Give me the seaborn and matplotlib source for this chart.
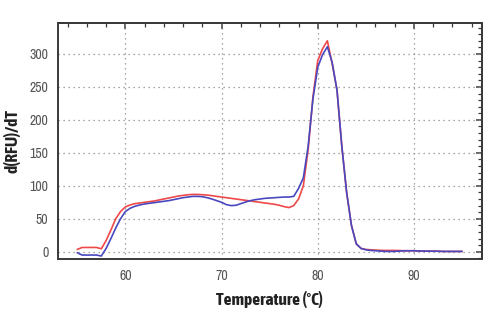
import numpy as np
import pandas as pd
import matplotlib
matplotlib.use("Agg")
import matplotlib.pyplot as plt
from matplotlib.ticker import MultipleLocator
import seaborn as sns

# Melt-curve derivative, sampled every 0.5 °C from 55 to 95 °C
temperature = [55.0, 55.5, 56.0, 56.5, 57.0, 57.5, 58.0, 58.5, 59.0, 59.5,
               60.0, 60.5, 61.0, 61.5, 62.0, 62.5, 63.0, 63.5, 64.0, 64.5,
               65.0, 65.5, 66.0, 66.5, 67.0, 67.5, 68.0, 68.5, 69.0, 69.5,
               70.0, 70.5, 71.0, 71.5, 72.0, 72.5, 73.0, 73.5, 74.0, 74.5,
               75.0, 75.5, 76.0, 76.5, 77.0, 77.5, 78.0, 78.5, 79.0, 79.5,
               80.0, 80.5, 81.0, 81.5, 82.0, 82.5, 83.0, 83.5, 84.0, 84.5,
               85.0, 85.5, 86.0, 86.5, 87.0, 87.5, 88.0, 88.5, 89.0, 89.5,
               90.0, 90.5, 91.0, 91.5, 92.0, 92.5, 93.0, 93.5, 94.0, 94.5,
               95.0]

sample_red = [3.5, 6.5, 6.5, 6.5, 6.5, 4.5, 17, 33, 50, 61,
              68, 71, 73, 74, 75, 76, 77, 78.5, 80, 81.5,
              83, 84.5, 85.5, 86.5, 87, 87, 86.5, 86, 85, 84,
              83, 82, 81, 80, 79, 78, 77, 76, 75, 74,
              73, 72, 70.5, 68.5, 67, 70, 80, 100, 155, 235,
              290, 308, 320, 285, 245, 160, 90, 40, 12, 5,
              3.5, 3, 2.5, 2.2, 2, 2, 2, 1.8, 1.5, 1.5,
              1.5, 1.2, 1, 1, 1, 0.8, 0.5, 0.5, 0.5, 0.5,
              0.5]

sample_blue = [-1.5, -5, -5, -5, -5, -6.5, 5, 20, 36, 50,
               61, 66, 69, 71, 72.5, 73.5, 74.5, 75.5, 76.5, 77.5,
               79, 80.5, 82, 83, 84, 84, 83.5, 82, 80, 77.5,
               75, 71.5, 70, 70.5, 73, 75.5, 77.5, 79, 80, 81,
               81.5, 82, 82.5, 83, 83, 84, 96, 112, 160, 232,
               280, 299, 311, 287, 245, 160, 90, 40, 12, 5,
               3, 2, 1.5, 1, 0.5, 0.5, 0.5, 1, 1.5, 1.5,
               1.5, 1.2, 1, 1, 0.8, 0.8, 0.5, 0.5, 0.5, 0.5,
               0.5]

series_names = ["Sample A", "Sample B"]
series_colors = ["#ef4848", "#4848c0"]

df = pd.DataFrame({
    "Temperature": temperature * 2,
    "dRFU": sample_red + sample_blue,
    "Sample": [series_names[0]] * len(temperature) + [series_names[1]] * len(temperature),
})

sns.set_style("white")
plt.rcParams["font.family"] = ["Archivo Narrow", "Liberation Sans", "DejaVu Sans"]
label_family = ["Asap Condensed", "Barlow Semi Condensed", "Liberation Sans", "DejaVu Sans"]

fig = plt.figure(figsize=(4.88, 3.28), dpi=100)
ax = fig.add_axes([58 / 488, 1 - 259 / 328, (482 - 58) / 488, (259 - 23) / 328])

sns.lineplot(data=df, x="Temperature", y="dRFU", hue="Sample",
             palette=series_colors, hue_order=series_names,
             linewidth=1.2, legend=False, ax=ax, zorder=3)

ax.set_xlim(53.0, 97.07)
ax.set_ylim(-11, 347)

ax.xaxis.set_major_locator(MultipleLocator(10))
ax.xaxis.set_minor_locator(MultipleLocator(2))
ax.yaxis.set_major_locator(MultipleLocator(50))
ax.yaxis.set_minor_locator(MultipleLocator(10))

spine_color = "#3a3a3a"
for s in ax.spines.values():
    s.set_color(spine_color)
    s.set_linewidth(1.4)

ax.tick_params(which="major", direction="inout", length=8, width=1.1,
               color=spine_color, labelsize=10, labelcolor="#555555", pad=3)
ax.tick_params(which="minor", direction="inout", length=4, width=0.9,
               color=spine_color)

# Inward ticks on the top and right edges
top = ax.secondary_xaxis("top")
top.xaxis.set_major_locator(MultipleLocator(10))
top.xaxis.set_minor_locator(MultipleLocator(2))
top.tick_params(which="both", direction="in", labeltop=False, color=spine_color)
top.tick_params(which="major", length=4, width=1.1)
top.tick_params(which="minor", length=3, width=0.9)
right = ax.secondary_yaxis("right")
right.yaxis.set_major_locator(MultipleLocator(50))
right.yaxis.set_minor_locator(MultipleLocator(10))
right.tick_params(which="both", direction="in", labelright=False, color=spine_color)
right.tick_params(which="major", length=4, width=1.1)
right.tick_params(which="minor", length=3, width=0.9)
for sp in list(top.spines.values()) + list(right.spines.values()):
    sp.set_color(spine_color)
    sp.set_linewidth(1.4)

ax.grid(True, which="major", color="#8a8a8a", linestyle=(0, (1, 3)), linewidth=0.9)

ax.set_xlabel("Temperature (°C)", fontsize=12.5, fontweight="bold",
              color="#222222", family=label_family)
ax.set_ylabel("d(RFU)/dT", fontsize=12.5, fontweight="bold",
              color="#222222", family=label_family)
ax.xaxis.set_label_coords(0.5, -0.135)
ax.yaxis.set_label_coords(-0.088, 0.5)

fig.savefig("out.png", dpi=100, facecolor="white")
